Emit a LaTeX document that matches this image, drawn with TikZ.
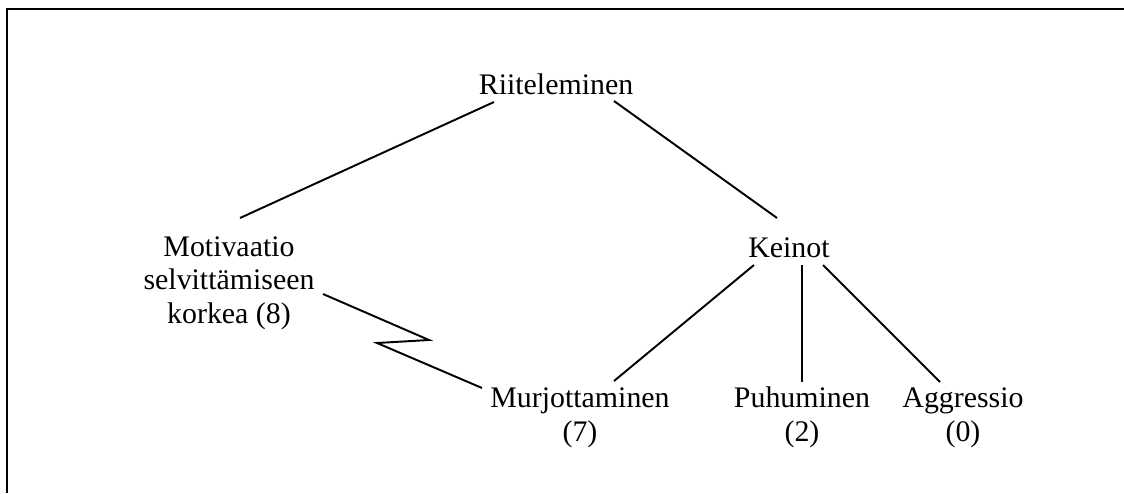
\documentclass[tikz,border=0pt]{standalone}
\usepackage{fontspec}
\setmainfont{Liberation Serif}
\usetikzlibrary{calc}
\begin{document}
\begin{tikzpicture}[x=0.02cm, y=-0.02cm, line width=1.1pt,
  lbl/.style={anchor=base, align=center, inner sep=0pt, font=\fontsize{17}{19}\selectfont}]
\useasboundingbox (0,0) rectangle (1124,493);
\draw [line width=1.4pt] (7,493)--(7,9)--(1124,9);
\node[lbl] (riit) at (556,95) {Riiteleminen};
\node[lbl] (moti) at (229,323) {Motivaatio\\selvittämiseen\\korkea (8)};
\node[lbl] (kein) at (789,257) {Keinot};
\node[lbl] (murj) at (580,441) {Murjottaminen\\(7)};
\node[lbl] (puhu) at (802,441) {Puhuminen\\(2)};
\node[lbl] (aggr) at (963,441) {Aggressio\\(0)};
\draw ($(riit.base)+(-62,7)$)--($(moti.base)+(11,-105)$);
\draw ($(riit.base)+(58,6)$)--($(kein.base)+(-12,-39)$);
\draw ($(kein.base)+(-35,8)$)--($(murj.base)+(34,-60)$);
\draw ($(kein.base)+(13,8)$)--($(puhu.base)+(0,-59)$);
\draw ($(kein.base)+(34,8)$)--($(aggr.base)+(-23,-59)$);
\draw ($(moti.base)+(94,-29)$)-- ++(106,46) -- ++(-52,3)--($(murj.base)+(-98,-53)$);
\end{tikzpicture}
\end{document}
